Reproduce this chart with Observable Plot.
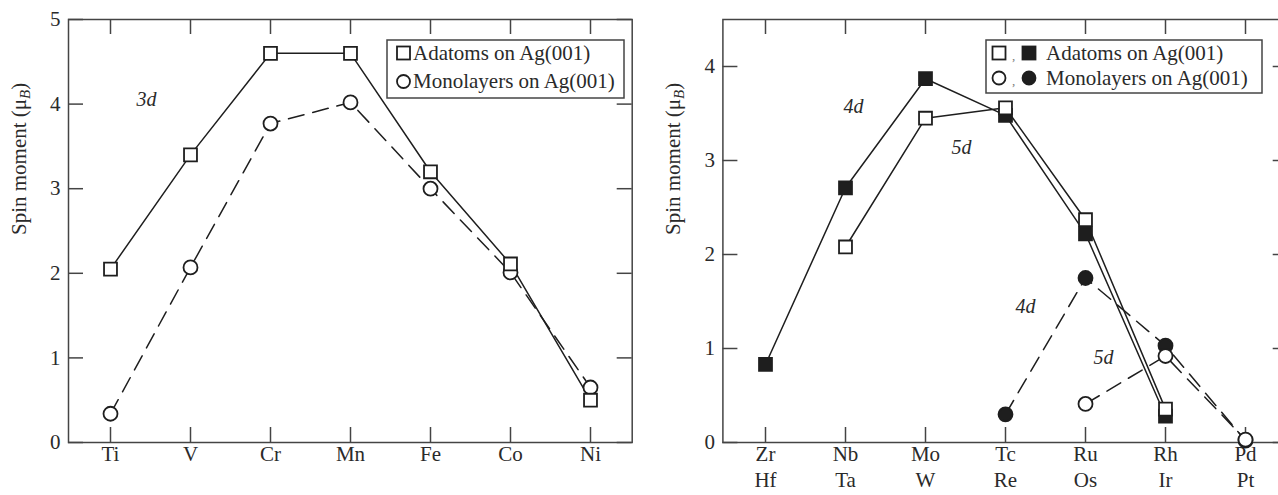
<!DOCTYPE html>
<html><head><meta charset="utf-8">
<script src="https://cdn.jsdelivr.net/npm/d3@7"></script>
<script src="https://cdn.jsdelivr.net/npm/@observablehq/plot@0.6"></script>
<style>
html,body{margin:0;padding:0;background:#fff;width:1278px;height:495px;overflow:hidden;position:relative;font-family:"Liberation Serif","Tinos","Times New Roman","DejaVu Serif",serif;}
.panel{position:absolute;top:0;line-height:0;height:495px;}
.panel svg{max-width:none !important;}
svg text{font-family:"Liberation Serif","Tinos","Times New Roman","DejaVu Serif",serif !important;}
</style></head><body>
<div id="left" class="panel" style="left:0;width:640px"></div>
<div id="right" class="panel" style="left:640px;width:660px"></div>
<script>
// ---- data ----
const elements3d = ["Ti","V","Cr","Mn","Fe","Co","Ni"];
const adatoms3d = [2.05,3.40,4.60,4.60,3.20,2.11,0.50];
const monolayers3d = [0.34,2.07,3.77,4.02,3.00,2.01,0.65];

const elements4d = ["Zr","Nb","Mo","Tc","Ru","Rh","Pd"];
const elements5d = ["Hf","Ta","W","Re","Os","Ir","Pt"];
const adatoms4d = [0.83,2.71,3.87,3.48,2.22,0.28,null];
const adatoms5d = [null,2.08,3.45,3.56,2.37,0.355,null];
const monolayers4d = [null,null,null,0.30,1.75,1.03,0.02];
const monolayers5d = [null,null,null,null,0.41,0.92,0.03];

const seriesLabels = ["Adatoms on Ag(001)","Monolayers on Ag(001)"];
const yLabel = "Spin moment (μB)";
const yTicksLeft = [0,1,2,3,4,5];
const yTicksRight = [0,1,2,3,4];
const noteLabelsLeft = ["3d"];
const noteAnchorsLeft = ["Ti"];
const noteValuesLeft = [4.05];
const noteLabelsRight = ["4d","5d","4d","5d"];
const noteAnchorsRight = ["Nb","Mo","Tc","Ru"];
const noteValuesRight = [3.57,3.14,1.45,0.90];

// ---- helpers ----
function rows(cats, vals){ return cats.map((c,i)=>({x:c, y:vals[i]})).filter(d=>d.y!=null); }
const FONT = "'Liberation Serif', Tinos, 'Times New Roman', 'DejaVu Serif', serif";
const ink = "#1e1e1e";
const txt = "#2a2a2a";
const sqR = 7.3, ciR = 7;
const style = {fontFamily:FONT, fontSize:"21px", color:txt, background:"transparent", overflow:"visible", maxWidth:"none"};
const SVGNS = "http://www.w3.org/2000/svg";
const TICK = 15;
const FRAME_H = 442 - 19;

function frameMarks(cats, yt, frameW){
  return [
    Plot.tickX(cats, {x:d=>d, insetTop:FRAME_H-TICK, stroke:"#444", strokeWidth:1.5}),
    Plot.tickX(cats, {x:d=>d, insetBottom:FRAME_H-TICK, stroke:"#444", strokeWidth:1.5}),
    Plot.tickY(yt, {y:d=>d, insetRight:frameW-TICK, stroke:"#444", strokeWidth:1.5}),
    Plot.tickY(yt, {y:d=>d, insetLeft:frameW-TICK, stroke:"#444", strokeWidth:1.5}),
    Plot.axisY({anchor:"left", ticks:yt, tickSize:0, tickPadding:8, tickFormat:d=>String(d), label:null, fill:txt}),
    Plot.frame({stroke:"#444", strokeWidth:1.5})
  ];
}

function notes(labels, anchors, values, offsets){
  return labels.map((l,i)=>Plot.text([{label:l, x:anchors[i], y:values[i]}],
    {x:"x", y:"y", text:"label", dx:offsets[i], fontStyle:"italic", fontSize:20, fill:txt}));
}

function fixLabel(svg){
  svg.querySelectorAll("text").forEach(t=>{
    if (t.textContent === yLabel) {
      t.textContent = "";
      const a = document.createElementNS(SVGNS,"tspan"); a.textContent = "Spin moment (μ";
      const b = document.createElementNS(SVGNS,"tspan"); b.textContent = "B";
      b.setAttribute("font-style","italic"); b.setAttribute("font-size","15"); b.setAttribute("dy","4");
      const c = document.createElementNS(SVGNS,"tspan"); c.textContent = ")"; c.setAttribute("dy","-4");
      t.appendChild(a); t.appendChild(b); t.appendChild(c);
    }
  });
}

// ---- left panel ----
const leftW = 640, leftML = 68, leftMR = 8.3;
const leftPlot = Plot.plot({
  width: leftW, height: 495,
  marginLeft: leftML, marginRight: leftMR, marginTop: 19, marginBottom: 53,
  style,
  x: {type:"point", domain: elements3d, padding:0.5, axis:null},
  y: {domain:[0,5], axis:null},
  marks: [
    ...frameMarks(elements3d, yTicksLeft, leftW-leftML-leftMR),
    Plot.text(elements3d, {x:d=>d, frameAnchor:"bottom", dy:18, fontSize:21, fill:txt}),
    Plot.line(rows(elements3d, monolayers3d), {x:"x", y:"y", stroke:ink, strokeWidth:1.5, strokeDasharray:"16,9"}),
    Plot.line(rows(elements3d, adatoms3d), {x:"x", y:"y", stroke:ink, strokeWidth:1.5}),
    Plot.dot(rows(elements3d, monolayers3d), {x:"x", y:"y", r:ciR, stroke:ink, fill:"white", strokeWidth:1.8}),
    Plot.dot(rows(elements3d, adatoms3d), {x:"x", y:"y", r:sqR, symbol:"square", stroke:ink, fill:"white", strokeWidth:1.8}),
    ...notes(noteLabelsLeft, noteAnchorsLeft, noteValuesLeft, [36]),
    Plot.text([yLabel], {frameAnchor:"left", rotate:-90, dx:-49, dy:4, fontSize:21, fill:txt})
  ]
});
fixLabel(leftPlot);
document.getElementById("left").appendChild(leftPlot);

// ---- right panel ----
const rightW = 660, rightML = 82.4, rightMR = 12.3;
const rightPlot = Plot.plot({
  width: rightW, height: 495,
  marginLeft: rightML, marginRight: rightMR, marginTop: 19, marginBottom: 53,
  style,
  x: {type:"point", domain: elements4d, padding:0.5, axis:null},
  y: {domain:[0,4.5], axis:null},
  marks: [
    ...frameMarks(elements4d, yTicksRight, rightW-rightML-rightMR),
    Plot.text(elements4d, {x:d=>d, frameAnchor:"bottom", dy:18, fontSize:21, fill:txt}),
    Plot.text(elements4d, {x:d=>d, text:(d,i)=>elements5d[i], frameAnchor:"bottom", dy:44, fontSize:21, fill:txt}),
    Plot.line(rows(elements4d, monolayers4d), {x:"x", y:"y", stroke:ink, strokeWidth:1.5, strokeDasharray:"16,9"}),
    Plot.line(rows(elements4d, monolayers5d), {x:"x", y:"y", stroke:ink, strokeWidth:1.5, strokeDasharray:"16,9"}),
    Plot.line(rows(elements4d, adatoms4d), {x:"x", y:"y", stroke:ink, strokeWidth:1.5}),
    Plot.line(rows(elements4d, adatoms5d), {x:"x", y:"y", stroke:ink, strokeWidth:1.5}),
    Plot.dot(rows(elements4d, monolayers4d), {x:"x", y:"y", r:ciR, stroke:ink, fill:ink, strokeWidth:1.8}),
    Plot.dot(rows(elements4d, monolayers5d), {x:"x", y:"y", r:ciR, stroke:ink, fill:"white", strokeWidth:1.8}),
    Plot.dot(rows(elements4d, adatoms4d), {x:"x", y:"y", r:sqR, symbol:"square", stroke:ink, fill:ink, strokeWidth:1.8}),
    Plot.dot(rows(elements4d, adatoms5d), {x:"x", y:"y", r:sqR, symbol:"square", stroke:ink, fill:"white", strokeWidth:1.8}),
    ...notes(noteLabelsRight, noteAnchorsRight, noteValuesRight, [8,36,20,18]),
    Plot.text([yLabel], {frameAnchor:"left", rotate:-90, dx:-50, dy:4, fontSize:21, fill:txt})
  ]
});
fixLabel(rightPlot);
document.getElementById("right").appendChild(rightPlot);

// ---- legends ----
const ov = d3.select("body").append("svg")
  .attr("width",1278).attr("height",495)
  .style("position","absolute").style("left","0").style("top","0")
  .style("pointer-events","none")
  .attr("font-family",FONT).attr("font-size",21).attr("fill",txt);

function sq(g, cx, cy, filled){
  g.append("rect").attr("x",cx-6.5).attr("y",cy-6.5).attr("width",13).attr("height",13)
   .attr("fill",filled?ink:"white").attr("stroke",ink).attr("stroke-width",1.8);
}
function ci(g, cx, cy, filled){
  g.append("circle").attr("cx",cx).attr("cy",cy).attr("r",6.5)
   .attr("fill",filled?ink:"white").attr("stroke",ink).attr("stroke-width",1.8);
}
// left legend
const gL = ov.append("g");
gL.append("rect").attr("x",387).attr("y",40).attr("width",237).attr("height",58)
  .attr("fill","white").attr("stroke","#444").attr("stroke-width",1.5);
sq(gL, 403.5, 53, false);
gL.append("text").attr("x",413).attr("y",59.5).text(seriesLabels[0]);
ci(gL, 403.5, 81.5, false);
gL.append("text").attr("x",413).attr("y",88).text(seriesLabels[1]);
// right legend
const gR = ov.append("g");
gR.append("rect").attr("x",986).attr("y",40).attr("width",276).attr("height",53)
  .attr("fill","white").attr("stroke","#444").attr("stroke-width",1.5);
sq(gR, 999, 53, false);
gR.append("text").attr("x",1012).attr("y",60).attr("font-size",13).attr("fill","#777").text(",");
sq(gR, 1029, 53, true);
gR.append("text").attr("x",1046).attr("y",60).text(seriesLabels[0]);
ci(gR, 999, 78, false);
gR.append("text").attr("x",1012).attr("y",85).attr("font-size",13).attr("fill","#777").text(",");
ci(gR, 1029, 78, true);
gR.append("text").attr("x",1046).attr("y",85).text(seriesLabels[1]);
</script>
</body></html>
